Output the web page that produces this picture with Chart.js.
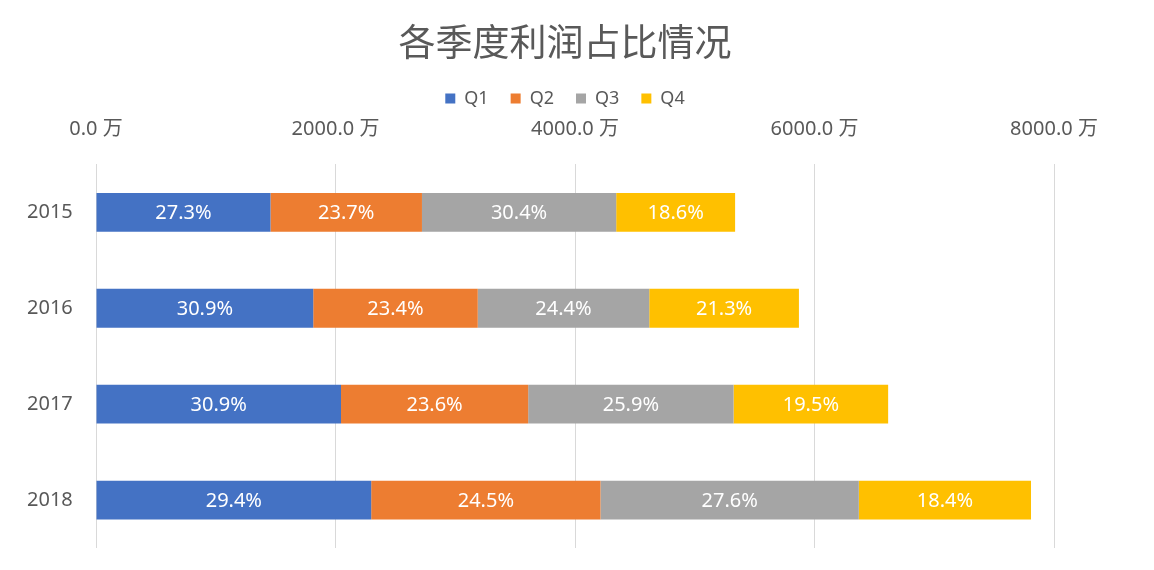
<!DOCTYPE html>
<html>
<head>
<meta charset="utf-8">
<script src="https://cdn.jsdelivr.net/npm/chart.js@4"></script>
<style>
  html, body { margin: 0; padding: 0; background: #fff; overflow: hidden; }
  canvas { display: block; }
</style>
</head>
<body>
<canvas id="chart" width="1154" height="570"></canvas>
<script>
// categories (years) and quarter profits, in 万
const years = [ "2015", "2016", "2017", "2018" ];
const q1 = [ 1457, 1814, 2046, 2298 ];
const q2 = [ 1265, 1374, 1563, 1915 ];
const q3 = [ 1622, 1432, 1715, 2157 ];
const q4 = [ 993, 1250, 1291, 1438 ];
const seriesNames = [ "Q1", "Q2", "Q3", "Q4" ];
const seriesColors = [ "#4472C4", "#ED7D31", "#A5A5A5", "#FFC000" ];
const xTicks = [ 0, 2000, 4000, 6000, 8000 ];

const FONT = '"Noto Sans", "Noto Sans CJK SC", sans-serif';
const GREY = "#595959";

// white percentage label in the middle of each segment
const percentLabels = {
  id: "percentLabels",
  afterDatasetsDraw( chart ) {
    const ctx = chart.ctx;
    const sets = chart.data.datasets;
    ctx.save();
    ctx.font = "20px " + FONT;
    ctx.fillStyle = "#ffffff";
    ctx.textAlign = "center";
    ctx.textBaseline = "middle";
    sets.forEach( ( ds, di ) => {
      const meta = chart.getDatasetMeta( di );
      meta.data.forEach( ( bar, i ) => {
        let total = 0;
        for ( let k = 0; k < sets.length; k++ ) total += sets[k].data[i];
        const pct = ( ds.data[i] / total * 100 ).toFixed( 1 ) + "%";
        const cx = ( bar.x + bar.base ) / 2;
        ctx.fillText( pct, cx, bar.y + 1 );
      });
    });
    ctx.restore();
  }
};

const allData = [ q1, q2, q3, q4 ];

new Chart( document.getElementById( "chart" ), {
  type: "bar",
  data: {
    labels: years,
    datasets: seriesNames.map( ( name, i ) => ({
      label: name,
      data: allData[i],
      backgroundColor: seriesColors[i],
      borderWidth: 0,
      categoryPercentage: 1,
      barPercentage: 0.405
    }))
  },
  options: {
    indexAxis: "y",
    responsive: false,
    animation: false,
    // left padding keeps title / legend centred like the original
    layout: { padding: { top: 23, right: 100, bottom: 22, left: 76 } },
    plugins: {
      title: {
        display: true,
        text: "各季度利润占比情况",
        color: GREY,
        font: { family: FONT, size: 37, weight: "normal" },
        padding: { top: 0, bottom: 0 }
      },
      legend: {
        position: "top",
        labels: {
          boxWidth: 10,
          boxHeight: 10,
          padding: 22,
          color: GREY,
          font: { family: FONT, size: 18 }
        }
      },
      tooltip: { enabled: false }
    },
    scales: {
      x: {
        position: "top",
        stacked: true,
        min: 0,
        max: 8000,
        afterBuildTicks( axis ) {
          axis.ticks = xTicks.map( v => ({ value: v }) );
        },
        afterFit( axis ) {
          axis.height = 47;
        },
        ticks: {
          padding: 23,
          color: GREY,
          font: { family: FONT, size: 20 },
          callback: v => Number( v ).toFixed( 1 ) + " 万"
        },
        grid: { color: "#D9D9D9", drawTicks: false },
        border: { display: false }
      },
      y: {
        stacked: true,
        afterFit( axis ) {
          axis.width = 20;
        },
        // mirrored so the labels are not clipped to the narrow axis box,
        // negative padding pulls them back left of the plot
        ticks: {
          mirror: true,
          padding: -69,
          color: GREY,
          font: { family: FONT, size: 20 }
        },
        grid: { display: false, drawTicks: false },
        border: { display: false }
      }
    }
  },
  plugins: [ percentLabels ]
});
</script>
</body>
</html>
